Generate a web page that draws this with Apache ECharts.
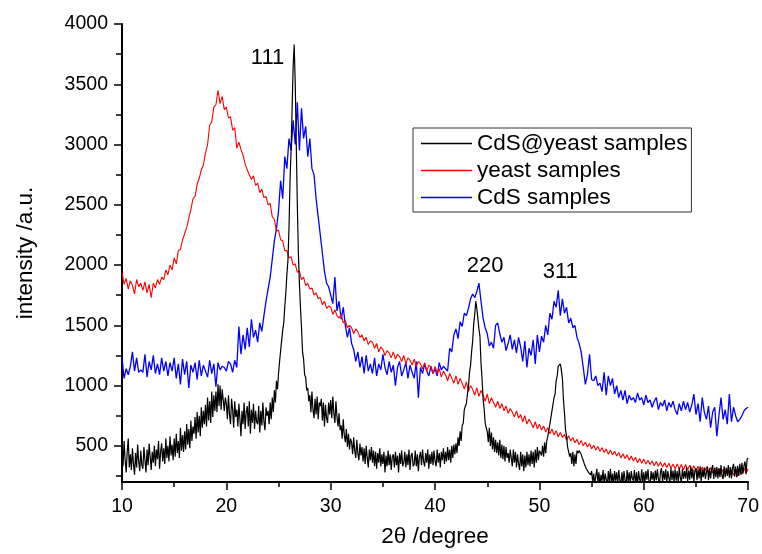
<!DOCTYPE html>
<html>
<head>
<meta charset="utf-8">
<script src="https://cdn.jsdelivr.net/npm/echarts@6/dist/echarts.min.js"></script>
<style>html,body{margin:0;padding:0;background:#fff;}#c{width:762px;height:554px;}</style>
</head>
<body>
<div id="c"></div>
<script>
// x (2θ) sampling
const xStart = 10;
const blackStep = 0.1;
const redStep = 0.2;
const blueStep = 0.2;

// CdS@yeast samples (0.1° steps, 10 → 70)
const blackY = [
470,330,540,380,280,450,560,320,430,300,
480,350,260,440,320,510,370,290,460,340,
310,490,380,280,470,340,520,410,300,450,
360,500,330,470,390,540,310,450,520,370,
480,350,560,400,500,370,580,420,510,380,
560,410,600,440,540,400,650,460,590,450,
620,470,680,510,640,480,710,540,660,600,
740,560,780,610,750,580,820,650,790,680,
840,660,900,710,870,690,950,740,920,790,
950,780,1010,830,1000,800,970,880,790,900,
850,720,920,760,680,890,800,650,870,740,
800,660,850,720,580,790,680,860,640,780,
830,660,870,600,800,690,850,640,790,700,
680,830,610,790,670,860,700,630,820,750,
790,680,860,720,900,780,960,860,1040,970,
1100,1200,1290,1280,1460,1520,1660,1770,1920,2040,
2300,2700,2950,3300,3650,3830,3500,3000,2500,2100,
1850,1650,1480,1280,1220,1090,1070,960,980,870,
920,780,950,800,730,890,760,910,720,860,
830,890,710,860,660,840,730,690,860,760,
880,730,910,770,690,870,740,660,770,630,
670,560,720,590,530,640,490,600,470,560,
530,430,570,460,400,550,440,380,520,420,
490,370,480,350,500,400,320,470,380,490,
360,460,330,450,310,440,360,480,330,430,
350,450,280,420,330,460,340,430,300,410,
430,320,450,340,420,280,440,350,460,330,
360,450,320,430,340,470,300,420,440,330,
350,460,330,430,290,410,450,340,470,370,
330,440,360,470,310,430,350,450,340,460,
370,330,470,360,440,320,450,380,480,350,
450,370,490,380,470,360,500,400,510,430,
520,440,570,500,620,540,670,690,800,830,
850,930,990,1110,1170,1280,1370,1510,1590,1700,
1640,1560,1470,1410,1190,1060,890,810,690,650,
620,530,650,500,610,470,570,450,550,440,
530,420,550,400,510,390,500,370,490,400,
440,360,470,400,330,470,360,450,320,430,
350,300,450,330,430,290,420,320,450,340,
430,330,460,350,450,320,470,360,490,380,
460,440,420,500,410,530,440,540,580,570,
680,670,790,780,900,930,1040,1080,1160,1170,
1180,1130,1060,880,770,630,580,490,500,410,
440,350,450,330,430,350,460,440,460,450,
430,400,380,350,340,310,310,280,280,260,
290,200,270,180,250,310,190,280,170,260,
210,300,180,270,220,170,290,200,310,190,
270,170,290,210,280,180,300,220,175,280,
190,290,220,170,300,200,280,185,290,230,
210,300,180,280,170,290,220,200,305,190,
280,185,290,220,305,200,175,290,220,280,
190,295,215,305,225,180,285,315,200,290,
220,305,190,290,235,200,315,215,295,205,
305,210,290,195,320,235,200,305,225,290,
230,320,205,295,220,330,230,305,205,295,
315,215,305,230,330,205,305,240,320,225,
240,330,215,315,230,305,340,225,320,240,
325,230,315,240,340,250,225,330,240,320,
250,340,235,325,230,315,350,245,330,240,
335,250,350,260,360,270,335,370,265,390,
400
];

// yeast samples (0.2° steps, 10 → 70)
const redY = [
1940,1840,1890,1800,1870,1830,1760,1880,1820,1850,
1790,1860,1770,1840,1730,1850,1810,1880,1840,1900,
1880,1960,1920,2000,1960,2060,2010,2120,2130,2210,
2260,2310,2390,2460,2550,2570,2670,2720,2790,2830,
2930,3000,3160,3190,3310,3330,3450,3340,3400,3290,
3310,3220,3230,3120,3140,2970,3020,2960,2910,2840,
2790,2750,2710,2740,2660,2680,2600,2630,2560,2570,
2500,2510,2400,2380,2280,2290,2210,2200,2120,2120,
2060,2070,2000,2010,1940,1950,1880,1900,1830,1850,
1800,1810,1750,1770,1720,1730,1670,1700,1640,1660,
1650,1590,1630,1580,1560,1590,1520,1540,1480,1500,
1480,1430,1470,1450,1400,1420,1370,1400,1340,1370,
1360,1310,1350,1280,1320,1300,1250,1290,1270,1230,
1280,1220,1260,1240,1200,1250,1180,1230,1210,1170,
1220,1160,1200,1180,1140,1190,1120,1170,1150,1100,
1160,1100,1140,1070,1120,1090,1040,1100,1060,1020,
1080,1010,1060,1020,970,1030,950,1000,970,920,
980,910,960,920,870,930,850,900,860,820,
870,810,850,790,830,770,810,780,740,790,
730,760,700,750,680,720,690,650,700,640,
680,630,665,615,650,600,640,590,625,575,
610,570,595,545,585,540,570,525,555,510,
545,500,530,490,520,475,505,465,495,455,
485,445,475,430,465,425,455,415,445,400,
435,395,425,380,415,375,405,360,395,355,
390,350,380,345,375,335,370,330,365,325,
360,320,355,315,350,310,350,305,345,300,
345,300,340,295,335,290,330,285,325,280,
325,280,320,275,315,270,310,265,305,265,
305,260,300,255,295,250,305,265,315,275,
310
];

// CdS samples (0.2° steps, 10 → 70)
const blueY = [
1230,1060,1140,1090,1160,1280,1120,1230,1110,1130,
1110,1260,1070,1200,1130,1250,1100,1180,1090,1230,
1120,1200,1080,1190,1120,1230,1060,1180,1010,1220,
1090,1200,980,1170,1110,1190,1050,1210,1080,1170,
1120,1070,1210,1100,1180,990,1190,1130,1160,1150,
1120,1200,1180,1110,1210,1150,1490,1260,1420,1300,
1480,1320,1550,1400,1460,1360,1520,1450,1580,1700,
1800,1900,2050,2200,2300,2450,2700,2550,2900,2800,
3050,2950,3200,3000,3350,2950,3300,3050,3150,2900,
3050,2800,2750,2550,2400,2250,2100,1950,1850,1820,
1750,1680,1900,1620,1700,1550,1650,1500,1400,1480,
1350,1300,1200,1280,1150,1240,1100,1250,1120,1180,
1100,1230,1080,1180,1130,1260,1150,1090,1200,1110,
1170,1000,1150,1200,1080,1130,1190,1060,1170,1110,
1060,1200,900,1150,1100,1180,1120,1080,1160,1100,
1140,1080,1190,1130,1160,1140,1120,1310,1280,1420,
1470,1390,1530,1490,1600,1580,1640,1720,1760,1730,
1780,1850,1700,1560,1480,1430,1330,1360,1310,1500,
1520,1430,1360,1400,1290,1350,1420,1300,1380,1270,
1400,1320,1200,1370,1150,1310,1250,1380,1180,1420,
1280,1410,1360,1500,1420,1600,1550,1700,1650,1790,
1580,1720,1600,1650,1520,1560,1480,1500,1400,1350,
1280,1150,1010,1090,1260,1050,1040,1080,1000,1020,
950,1110,920,1080,1000,1060,930,1000,900,960,
880,960,850,920,880,900,860,940,880,900,
840,920,860,880,820,870,900,800,860,830,
880,790,860,820,870,800,760,850,790,870,
800,860,780,840,930,760,850,700,900,780,
720,830,650,780,820,580,750,900,720,800,
680,930,700,820,750,700,720,750,790,810,
820
];

// axis ticks
const xTicks = [10, 20, 30, 40, 50, 60, 70];
const yMajor = [500, 1000, 1500, 2000, 2500, 3000, 3500, 4000];
const yMinor = [250, 750, 1250, 1750, 2250, 2750, 3250, 3750];

// peak annotations
const peakNames = ['111', '220', '311'];
const peakX = [23.95, 44.8, 52.0];
const peakY = [3720, 1990, 1940];

const seriesNames = ['CdS@yeast samples', 'yeast samples', 'CdS samples'];

function toPairs(arr, step) {
  return arr.map((v, i) => [+(xStart + i * step).toFixed(2), v]);
}

const FONT = '"Liberation Sans", Arial, sans-serif';
const chart = echarts.init(document.getElementById('c'), null, {renderer: 'canvas'});

const baseLine = (color, width) => ({
  type: 'line', symbol: 'none', showSymbol: false, sampling: null,
  lineStyle: {color: color, width: width}, itemStyle: {color: color},
  emphasis: {disabled: true}, clip: true
});

chart.setOption({
  animation: false,
  backgroundColor: '#fff',
  grid: {left: 122, right: 13, top: 24, bottom: 72, containLabel: false},
  legend: {
    show: true, orient: 'vertical', left: 413, top: 128,
    data: seriesNames,
    icon: 'rect', itemWidth: 51, itemHeight: 1.5, itemGap: 4,
    padding: [4, 4, 3, 8],
    borderColor: '#333', borderWidth: 1,
    textStyle: {fontFamily: FONT, fontSize: 22.5, color: '#000', lineHeight: 23}
  },
  xAxis: {
    type: 'value', min: 10, max: 70, interval: 10,
    name: '2θ /degree', nameLocation: 'middle', nameGap: 43,
    nameTextStyle: {fontFamily: FONT, fontSize: 22.5, color: '#000'},
    axisLine: {show: true, onZero: false, lineStyle: {color: '#000', width: 2}},
    axisTick: {show: true, inside: false, length: 8, lineStyle: {color: '#000', width: 1.5}},
    minorTick: {show: true, splitNumber: 2, length: 5, lineStyle: {color: '#000', width: 1.5}},
    axisLabel: {fontFamily: FONT, fontSize: 19.5, color: '#000', margin: 15},
    splitLine: {show: false}
  },
  yAxis: [{
    type: 'value', min: 200, max: 4000,
    name: 'intensity /a.u.', nameLocation: 'middle', nameGap: 85,
    nameTextStyle: {fontFamily: FONT, fontSize: 22.5, color: '#000'},
    axisLine: {show: true, onZero: false, lineStyle: {color: '#000', width: 2}},
    axisTick: {show: true, length: 8, customValues: yMajor, lineStyle: {color: '#000', width: 1.5}},
    axisLabel: {fontFamily: FONT, fontSize: 19.5, color: '#000', margin: 14, customValues: yMajor,
                formatter: v => String(v)},
    splitLine: {show: false}
  }, {
    type: 'value', min: 200, max: 4000, position: 'left', offset: 0,
    axisLine: {show: false},
    axisTick: {show: true, length: 6, customValues: yMinor, lineStyle: {color: '#000', width: 1.5}},
    axisLabel: {show: false},
    splitLine: {show: false}
  }],
  series: [
    Object.assign(baseLine('#000000', 1.2), {
      name: seriesNames[0], data: toPairs(blackY, blackStep), z: 3,
      markPoint: {
        symbol: 'circle', symbolSize: 0, silent: true,
        label: {show: true, position: 'inside', fontFamily: FONT, fontSize: 22, color: '#000',
                formatter: p => p.name},
        data: peakNames.map((n, i) => ({name: n, coord: [peakX[i], peakY[i]]}))
      }
    }),
    Object.assign(baseLine('#ff0000', 1.1), {name: seriesNames[1], data: toPairs(redY, redStep), z: 2}),
    Object.assign(baseLine('#0000ff', 1.3), {name: seriesNames[2], data: toPairs(blueY, blueStep), z: 1})
  ]
});
</script>
</body>
</html>
